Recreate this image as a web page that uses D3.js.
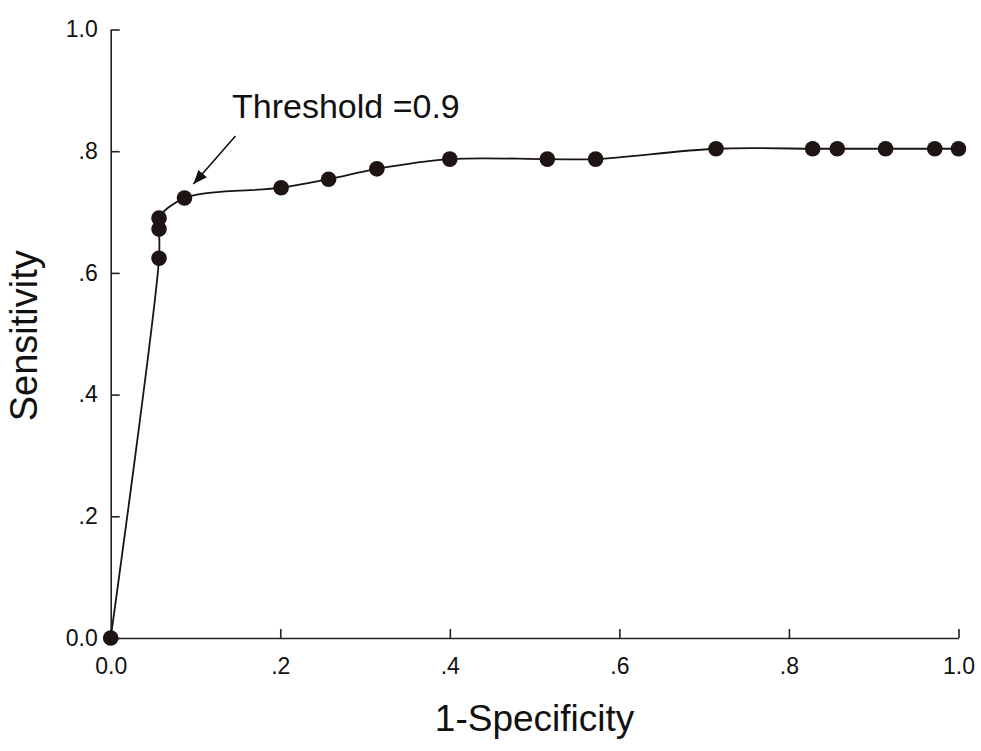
<!DOCTYPE html>
<html>
<head>
<meta charset="utf-8">
<script src="https://cdn.jsdelivr.net/npm/d3@7"></script>
<style>
  body { margin: 0; background: #fff; }
  text { font-family: "Liberation Sans", Arial, sans-serif; fill: #111; }
</style>
</head>
<body>
<div id="container"></div>
<script>
/* CONSTANTS AND GLOBALS */
const width = 981;
const height = 751;
const margin = ({top: 29.5, right: 22.5, bottom: 113, left: 110.7});

/* DATA */
const fpr = [0, 0.057, 0.057, 0.057, 0.087, 0.201, 0.257, 0.314, 0.400, 0.515, 0.572, 0.714, 0.828, 0.857, 0.914, 0.972, 1.0];
const tpr = [0, 0.624, 0.672, 0.690, 0.723, 0.740, 0.754, 0.771, 0.787, 0.787, 0.787, 0.804, 0.804, 0.804, 0.804, 0.804, 0.804];
const tickValues = [0, 0.2, 0.4, 0.6, 0.8, 1.0];
const tickLabels = ["0.0", ".2", ".4", ".6", ".8", "1.0"];
const annotation = {text: "Threshold =0.9", index: 4};

const data = fpr.map((x, i) => ({x: x, y: tpr[i]}));

/* SCALES */
const xScale = d3.scaleLinear().domain([0, 1]).range([margin.left, width - margin.right]);
const yScale = d3.scaleLinear().domain([0, 1]).range([height - margin.bottom, margin.top]);

const svg = d3.select("#container")
  .append("svg")
  .attr("width", width)
  .attr("height", height);

svg.append("defs").append("marker")
  .attr("id", "arrow")
  .attr("viewBox", "0 0 10 10")
  .attr("refX", 10).attr("refY", 5)
  .attr("markerWidth", 14).attr("markerHeight", 14)
  .attr("markerUnits", "userSpaceOnUse")
  .attr("orient", "auto")
  .append("path")
  .attr("d", "M0,1 L10,5 L0,9 Z")
  .attr("fill", "#111");

/* AXES - inward ticks */
const xAxis = d3.axisBottom(xScale)
  .tickValues(tickValues)
  .tickFormat((d, i) => tickLabels[i])
  .tickSizeInner(-9).tickSizeOuter(0).tickPadding(20);
const yAxis = d3.axisLeft(yScale)
  .tickValues(tickValues)
  .tickFormat((d, i) => tickLabels[i])
  .tickSizeInner(-9).tickSizeOuter(0).tickPadding(13);

const gx = svg.append("g")
  .attr("transform", `translate(0, ${height - margin.bottom})`)
  .call(xAxis);
const gy = svg.append("g")
  .attr("transform", `translate(${margin.left}, 0)`)
  .call(yAxis);

[gx, gy].forEach(g => {
  g.select(".domain").attr("stroke", "#222").attr("stroke-width", 1.6);
  g.selectAll(".tick line").attr("stroke", "#222").attr("stroke-width", 1.6);
  g.selectAll(".tick text")
    .attr("font-size", "23px")
    .attr("font-family", "Liberation Sans, Arial, sans-serif")
    .attr("fill", "#111");
});

/* CURVE AND POINTS */
const line = d3.line()
  .x(d => xScale(d.x))
  .y(d => yScale(d.y))
  .curve(d3.curveCatmullRom.alpha(0.5));

svg.append("path")
  .datum(data)
  .attr("d", line)
  .attr("fill", "none")
  .attr("stroke", "#1a1414")
  .attr("stroke-width", 1.8);

svg.selectAll("circle.dot")
  .data(data)
  .join("circle")
  .attr("class", "dot")
  .attr("cx", d => xScale(d.x))
  .attr("cy", d => yScale(d.y))
  .attr("r", 7.8)
  .attr("fill", "#1e1414");

/* ANNOTATION */
const target = data[annotation.index];
svg.append("line")
  .attr("x1", xScale(target.x) + 51)
  .attr("y1", yScale(target.y) - 62)
  .attr("x2", xScale(target.x) + 9)
  .attr("y2", yScale(target.y) - 14)
  .attr("stroke", "#111")
  .attr("stroke-width", 1.6)
  .attr("marker-end", "url(#arrow)");

svg.append("text")
  .attr("x", 232)
  .attr("y", 118)
  .attr("font-size", "34px")
  .text(annotation.text);

/* AXIS TITLES */
svg.append("text")
  .attr("x", (margin.left + width - margin.right) / 2)
  .attr("y", 731)
  .attr("text-anchor", "middle")
  .attr("font-size", "37px")
  .text("1-Specificity");

svg.append("text")
  .attr("transform", `translate(37, ${(margin.top + height - margin.bottom) / 2 + 2}) rotate(-90)`)
  .attr("text-anchor", "middle")
  .attr("font-size", "38px")
  .text("Sensitivity");
</script>
</body>
</html>
